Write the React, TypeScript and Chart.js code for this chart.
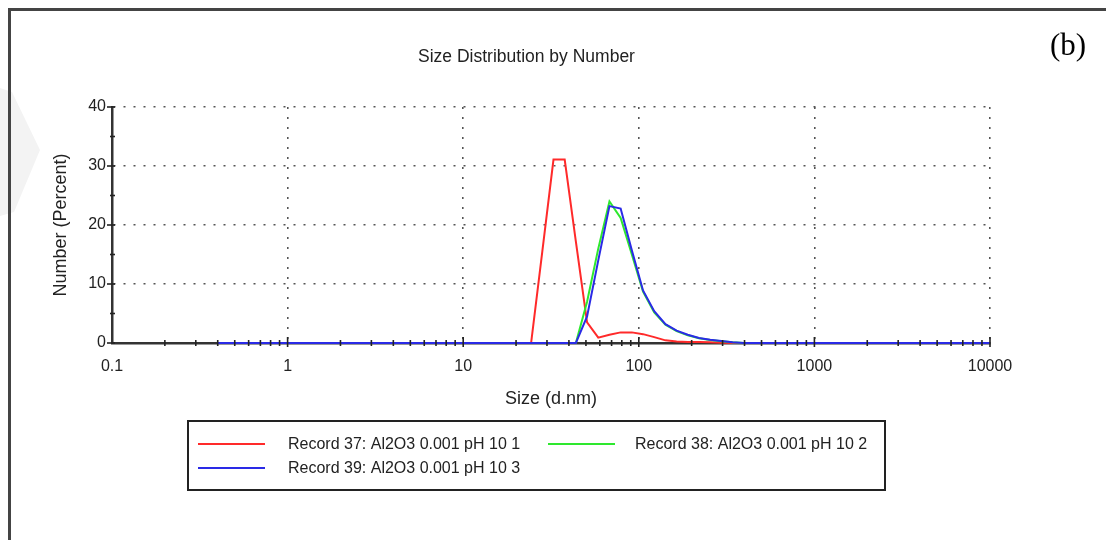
import React, { useEffect, useRef } from "react";
import { Chart, registerables } from "chart.js";

Chart.register(...registerables);

// Size bins (d.nm)
const SIZES = [
  0.4, 0.4632, 0.5365, 0.6213, 0.7195, 0.8332, 0.9649, 1.117, 1.294, 1.499,
  1.736, 2.01, 2.328, 2.696, 3.122, 3.615, 4.187, 4.849, 5.615, 6.503,
  7.531, 8.721, 10.1, 11.7, 13.54, 15.69, 18.17, 21.04, 24.36, 28.21,
  32.67, 37.84, 43.82, 50.75, 58.77, 68.06, 78.82, 91.28, 105.7, 122.4,
  141.8, 164.2, 190.1, 220.2, 255.0, 295.3, 342.0, 396.1, 458.7, 531.2,
  615.1, 712.4, 825.0, 955.4, 1106, 1281, 1484, 1718, 1990, 2305,
  2669, 3091, 3580, 4145, 4801, 5560, 6439, 7456, 8635, 10000,
];

const RECORD_37 = [
  0, 0, 0, 0, 0, 0, 0, 0, 0, 0,
  0, 0, 0, 0, 0, 0, 0, 0, 0, 0,
  0, 0, 0, 0, 0, 0, 0, 0, 0, 15.5,
  31.1, 31.1, 17.2, 3.5, 0.9, 1.4, 1.8, 1.8, 1.5, 1.0,
  0.45, 0.25, 0.18, 0.15, 0.12, 0.05, 0, 0, 0, 0,
  0, 0, 0, 0, 0, 0, 0, 0, 0, 0,
  0, 0, 0, 0, 0, 0, 0, 0, 0, 0,
];

const RECORD_38 = [
  0, 0, 0, 0, 0, 0, 0, 0, 0, 0,
  0, 0, 0, 0, 0, 0, 0, 0, 0, 0,
  0, 0, 0, 0, 0, 0, 0, 0, 0, 0,
  0, 0, 0, 7.0, 16.0, 24.0, 21.2, 15.0, 8.7, 5.2,
  3.1, 2.0, 1.3, 0.8, 0.5, 0.3, 0.12, 0, 0, 0,
  0, 0, 0, 0, 0, 0, 0, 0, 0, 0,
  0, 0, 0, 0, 0, 0, 0, 0, 0, 0,
];

const RECORD_39 = [
  0, 0, 0, 0, 0, 0, 0, 0, 0, 0,
  0, 0, 0, 0, 0, 0, 0, 0, 0, 0,
  0, 0, 0, 0, 0, 0, 0, 0, 0, 0,
  0, 0, 0, 4.5, 14.0, 23.2, 22.8, 15.7, 8.9, 5.4,
  3.2, 2.1, 1.4, 0.85, 0.55, 0.32, 0.12, 0, 0, 0,
  0, 0, 0, 0, 0, 0, 0, 0, 0, 0,
  0, 0, 0, 0, 0, 0, 0, 0, 0, 0,
];

const SERIES_LABELS = [
  "Record 37: Al2O3 0.001 pH 10 1",
  "Record 38: Al2O3 0.001 pH 10 2",
  "Record 39: Al2O3 0.001 pH 10 3",
];
const SERIES_COLORS = ["#ff2a2a", "#2ee82e", "#2a2ae6"];
const SERIES_ORDER = [2, 1, 0];

const X_TICKS = [0.1, 1, 10, 100, 1000, 10000];
const Y_TICKS = [0, 10, 20, 30, 40];
const TITLE = "Size Distribution by Number";
const X_TITLE = "Size (d.nm)";
const Y_TITLE = "Number (Percent)";
const PANEL_LABEL = "(b)";

const SANS = 'Arial, "Liberation Sans", sans-serif';
const SERIF = '"Times New Roman", "Liberation Serif", serif';
const TEXT = "#222";

const tickMarks = {
  id: "tickMarks",
  afterDatasetsDraw(chart: any) {
    const { ctx } = chart;
    const xs = chart.scales.x;
    const ys = chart.scales.y;
    const y0 = ys.getPixelForValue(0);
    const x0 = xs.getPixelForValue(X_TICKS[0]);
    ctx.save();
    ctx.strokeStyle = "#222";
    ctx.lineWidth = 1.6;
    const seg = (a: number, b: number, c: number, d: number) => {
      ctx.beginPath();
      ctx.moveTo(a, b);
      ctx.lineTo(c, d);
      ctx.stroke();
    };
    for (let d = 0; d < X_TICKS.length - 1; d++) {
      for (let k = 2; k <= 9; k++) {
        const px = xs.getPixelForValue(X_TICKS[d] * k);
        seg(px, y0 - 3, px, y0 + 3);
      }
    }
    for (let i = 1; i < X_TICKS.length; i++) {
      const px = xs.getPixelForValue(X_TICKS[i]);
      seg(px, y0 - 6, px, y0 + 4);
    }
    for (let i = 0; i < Y_TICKS.length; i++) {
      const py = ys.getPixelForValue(Y_TICKS[i]);
      seg(x0 - 5, py, x0 + 3, py);
      if (i < Y_TICKS.length - 1) {
        const pm = ys.getPixelForValue((Y_TICKS[i] + Y_TICKS[i + 1]) / 2);
        seg(x0 - 2, pm, x0 + 3, pm);
      }
    }
    ctx.restore();
  },
};

const decorations = {
  id: "decorations",
  beforeDraw(chart: any) {
    const { ctx } = chart;
    ctx.save();
    ctx.fillStyle = "#f3f3f3";
    ctx.beginPath();
    ctx.moveTo(0, 88);
    ctx.lineTo(12, 92);
    ctx.lineTo(40, 150);
    ctx.lineTo(14, 212);
    ctx.lineTo(0, 216);
    ctx.closePath();
    ctx.fill();
    ctx.restore();
  },
  afterDraw(chart: any) {
    const { ctx } = chart;
    ctx.save();
    // frame
    ctx.strokeStyle = "#444";
    ctx.lineWidth = 3;
    ctx.beginPath();
    ctx.moveTo(9.5, 540);
    ctx.lineTo(9.5, 9.5);
    ctx.lineTo(1106, 9.5);
    ctx.stroke();

    // title
    ctx.fillStyle = TEXT;
    ctx.font = `17.5px ${SANS}`;
    ctx.textAlign = "center";
    ctx.textBaseline = "alphabetic";
    ctx.fillText(TITLE, 526.5, 62);

    // panel label
    ctx.fillStyle = "#000";
    ctx.font = `31px ${SERIF}`;
    ctx.textAlign = "left";
    ctx.fillText(PANEL_LABEL, 1050, 55);

    // legend
    ctx.strokeStyle = "#222";
    ctx.lineWidth = 2;
    ctx.strokeRect(188, 421, 697, 69);
    const slots = [
      { lx: 198, tx: 288, y: 444 },
      { lx: 548, tx: 635, y: 444 },
      { lx: 198, tx: 288, y: 468 },
    ];
    ctx.font = `16px ${SANS}`;
    ctx.textBaseline = "middle";
    chart.data.datasets.forEach((ds: any, i: number) => {
      const s = slots[i];
      ctx.strokeStyle = ds.borderColor;
      ctx.lineWidth = 2;
      ctx.beginPath();
      ctx.moveTo(s.lx, s.y);
      ctx.lineTo(s.lx + 67, s.y);
      ctx.stroke();
      ctx.fillStyle = TEXT;
      ctx.fillText(ds.label, s.tx, s.y + 1);
    });
    ctx.restore();
  },
};

export default function App() {
  const ref = useRef<HTMLCanvasElement | null>(null);

  useEffect(() => {
    if (!ref.current) return;
    const series = [RECORD_37, RECORD_38, RECORD_39];
    const chart = new Chart(ref.current, {
      type: "line",
      data: {
        datasets: series.map((vals, i) => ({
          label: SERIES_LABELS[i],
          data: SIZES.map((s, j) => ({ x: s, y: vals[j] })),
          borderColor: SERIES_COLORS[i],
          backgroundColor: SERIES_COLORS[i],
          borderWidth: 2,
          pointRadius: 0,
          tension: 0,
          fill: false,
          order: SERIES_ORDER[i],
          clip: 10,
        })),
      },
      options: {
        animation: false,
        responsive: false,
        events: [],
        layout: { padding: { left: 0, top: 107, right: 116, bottom: 130 } },
        plugins: {
          legend: { display: false },
          tooltip: { enabled: false },
          title: { display: false },
        },
        scales: {
          x: {
            type: "logarithmic",
            min: X_TICKS[0],
            max: X_TICKS[X_TICKS.length - 1],
            afterBuildTicks: (s: any) => {
              s.ticks = X_TICKS.map((v) => ({ value: v }));
            },
            afterFit: (s: any) => {
              s.height = 67;
            },
            grid: {
              color: (c: any) => (c.index === 0 ? "rgba(0,0,0,0)" : "#555"),
              lineWidth: 1.6,
              drawTicks: false,
            },
            border: { display: true, color: "#333", width: 2.5, dash: [2, 8] },
            ticks: {
              autoSkip: false,
              maxRotation: 0,
              padding: 14,
              color: TEXT,
              font: { family: SANS, size: 16 },
              callback: (v: any) => String(v),
            },
            title: {
              display: true,
              text: X_TITLE,
              color: TEXT,
              font: { family: SANS, size: 18 },
              padding: { top: 0, bottom: 0 },
            },
          },
          y: {
            type: "linear",
            min: Y_TICKS[0],
            max: Y_TICKS[Y_TICKS.length - 1],
            afterBuildTicks: (s: any) => {
              s.ticks = Y_TICKS.map((v) => ({ value: v }));
            },
            afterFit: (s: any) => {
              s.width = 112;
            },
            grid: {
              color: (c: any) => (c.index === 0 ? "rgba(0,0,0,0)" : "#555"),
              lineWidth: 1.6,
              drawTicks: false,
            },
            border: { display: true, color: "#333", width: 2.5, dash: [2, 8] },
            ticks: {
              padding: 6,
              color: TEXT,
              font: { family: SANS, size: 16 },
              callback: (v: any) => String(v),
            },
            title: {
              display: true,
              text: Y_TITLE,
              color: TEXT,
              font: { family: SANS, size: 18 },
              padding: { top: 50, bottom: 0 },
            },
          },
        },
      },
      plugins: [decorations, tickMarks],
    } as any);
    return () => chart.destroy();
  }, []);

  return (
    <div style={{ position: "absolute", left: 0, top: 0, width: 1106, height: 540, background: "#fff" }}>
      <canvas ref={ref} width={1106} height={540} style={{ display: "block", width: 1106, height: 540 }} />
    </div>
  );
}
